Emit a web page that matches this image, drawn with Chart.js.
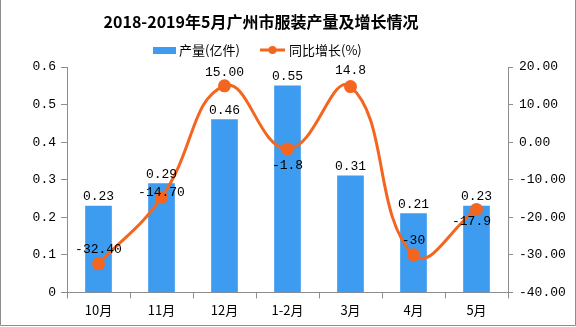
<!DOCTYPE html>
<html>
<head>
<meta charset="utf-8">
<script src="https://cdn.jsdelivr.net/npm/chart.js@4.4.0/dist/chart.umd.min.js"></script>
<style>
    html, body { margin: 0; padding: 0; background: #fff; }
    #wrap { width: 576px; height: 327px; position: relative; }
</style>
</head>
<body>
<div id="wrap"><canvas id="output-chart" width="576" height="327"></canvas></div>
<script>
var chartTitle = '2018-2019年5月广州市服装产量及增长情况';
var months = ['10月', '11月', '12月', '1-2月', '3月', '4月', '5月'];
var output = [0.23, 0.29, 0.46, 0.55, 0.31, 0.21, 0.23];
var outputText = ['0.23', '0.29', '0.46', '0.55', '0.31', '0.21', '0.23'];
var growth = [-32.40, -14.70, 15.00, -1.8, 14.8, -30, -17.9];
var growthText = ['-32.40', '-14.70', '15.00', '-1.8', '14.8', '-30', '-17.9'];

var monoFont = '"Liberation Mono", "Noto Sans CJK SC", monospace';
var cjkFont = '"Noto Sans CJK SC", "Liberation Mono", sans-serif';

// label offsets for the growth line, [dx, dy] from the point
var growthLabelShift = [[0, -14], [0, -5], [0, -13], [0, 17], [0, -16], [0, -14], [-5, 12]];

var framePlugin = {
    id: 'frame',
    beforeDraw: function (chart) {
        var ctx = chart.ctx;
        ctx.save();
        ctx.fillStyle = '#fff';
        ctx.fillRect(0, 0, chart.width, chart.height);
        ctx.strokeStyle = '#8c8c8c';
        ctx.lineWidth = 1;
        ctx.beginPath();
        ctx.moveTo(0.5, 0);
        ctx.lineTo(0.5, 325.5);
        ctx.lineTo(575.5, 325.5);
        ctx.lineTo(575.5, 0);
        ctx.stroke();
        ctx.restore();
    },
    afterDraw: function (chart) {
        var ctx = chart.ctx;
        ctx.save();
        // title
        ctx.fillStyle = '#000';
        ctx.font = 'bold 16px ' + cjkFont;
        ctx.textAlign = 'center';
        ctx.textBaseline = 'middle';
        ctx.fillText(chartTitle, 261, 22);

        // legend
        var ds = chart.data.datasets;
        ctx.font = '13px ' + cjkFont;
        ctx.textAlign = 'left';
        ctx.fillStyle = ds[0].backgroundColor;
        ctx.fillRect(153, 47, 23, 7);
        ctx.fillStyle = '#000';
        ctx.fillText(ds[0].label, 179, 50);
        ctx.strokeStyle = ds[1].borderColor;
        ctx.lineWidth = 3;
        ctx.beginPath();
        ctx.moveTo(260, 50);
        ctx.lineTo(285, 50);
        ctx.stroke();
        ctx.fillStyle = ds[1].borderColor;
        ctx.beginPath();
        ctx.arc(272.5, 50, 4, 0, Math.PI * 2);
        ctx.fill();
        ctx.fillStyle = '#000';
        ctx.fillText(ds[1].label, 289, 50);
        ctx.restore();
    }
};

var valueLabelPlugin = {
    id: 'valueLabels',
    afterDatasetsDraw: function (chart) {
        var ctx = chart.ctx;
        ctx.save();
        ctx.fillStyle = '#000';
        ctx.font = '13px ' + monoFont;
        ctx.textAlign = 'center';
        ctx.textBaseline = 'middle';

        var bars = chart.getDatasetMeta(0).data;
        bars.forEach(function (bar, i) {
            ctx.fillText(outputText[i], bar.x, bar.y - 9);
        });

        var points = chart.getDatasetMeta(1).data;
        points.forEach(function (pt, i) {
            var s = growthLabelShift[i];
            ctx.fillText(growthText[i], pt.x + s[0], pt.y + s[1]);
        });
        ctx.restore();
    }
};

var ctxOutput = document.getElementById('output-chart').getContext('2d');

var dataOutput = {
    labels: months,
    datasets: [{
        type: 'bar',
        label: '产量(亿件)',
        backgroundColor: '#3d9bf0',
        data: output,
        yAxisID: 'y',
        barThickness: 26,
        order: 2
    }, {
        type: 'line',
        label: '同比增长(%)',
        borderColor: '#f4661f',
        backgroundColor: '#f4661f',
        borderWidth: 3,
        pointRadius: 5,
        pointHoverRadius: 5,
        tension: 0.45,
        data: growth,
        yAxisID: 'y1',
        order: 1
    }]
};

var axisColor = '#8c8c8c';

var optionOutput = {
    responsive: false,
    animation: false,
    layout: { padding: { top: 67, left: 0, right: 0, bottom: 5 } },
    plugins: {
        legend: { display: false },
        title: { display: false },
        tooltip: { enabled: false }
    },
    scales: {
        x: {
            offset: true,
            grid: { display: true, drawOnChartArea: false, offset: true, tickLength: 6, color: axisColor },
            border: { color: axisColor },
            ticks: { color: '#000', font: { family: cjkFont, size: 13 }, padding: 4 }
        },
        y: {
            position: 'left',
            min: 0,
            max: 0.6,
            afterFit: function (scale) { scale.width = 67; },
            grid: { display: true, drawOnChartArea: false, tickLength: 6, color: axisColor },
            border: { color: axisColor },
            ticks: {
                stepSize: 0.1,
                color: '#000',
                font: { family: monoFont, size: 13 },
                padding: 5,
                callback: function (v) { return v === 0 ? '0' : v.toFixed(1); }
            }
        },
        y1: {
            position: 'right',
            min: -40,
            max: 20,
            afterFit: function (scale) { scale.width = 68; },
            grid: { display: true, drawOnChartArea: false, tickLength: 5, color: axisColor },
            border: { color: axisColor },
            ticks: {
                stepSize: 10,
                color: '#000',
                font: { family: monoFont, size: 13 },
                padding: 6,
                callback: function (v) { return v.toFixed(2); }
            }
        }
    }
};

new Chart(ctxOutput, {
    type: 'bar',
    data: dataOutput,
    options: optionOutput,
    plugins: [framePlugin, valueLabelPlugin]
});
</script>
</body>
</html>
